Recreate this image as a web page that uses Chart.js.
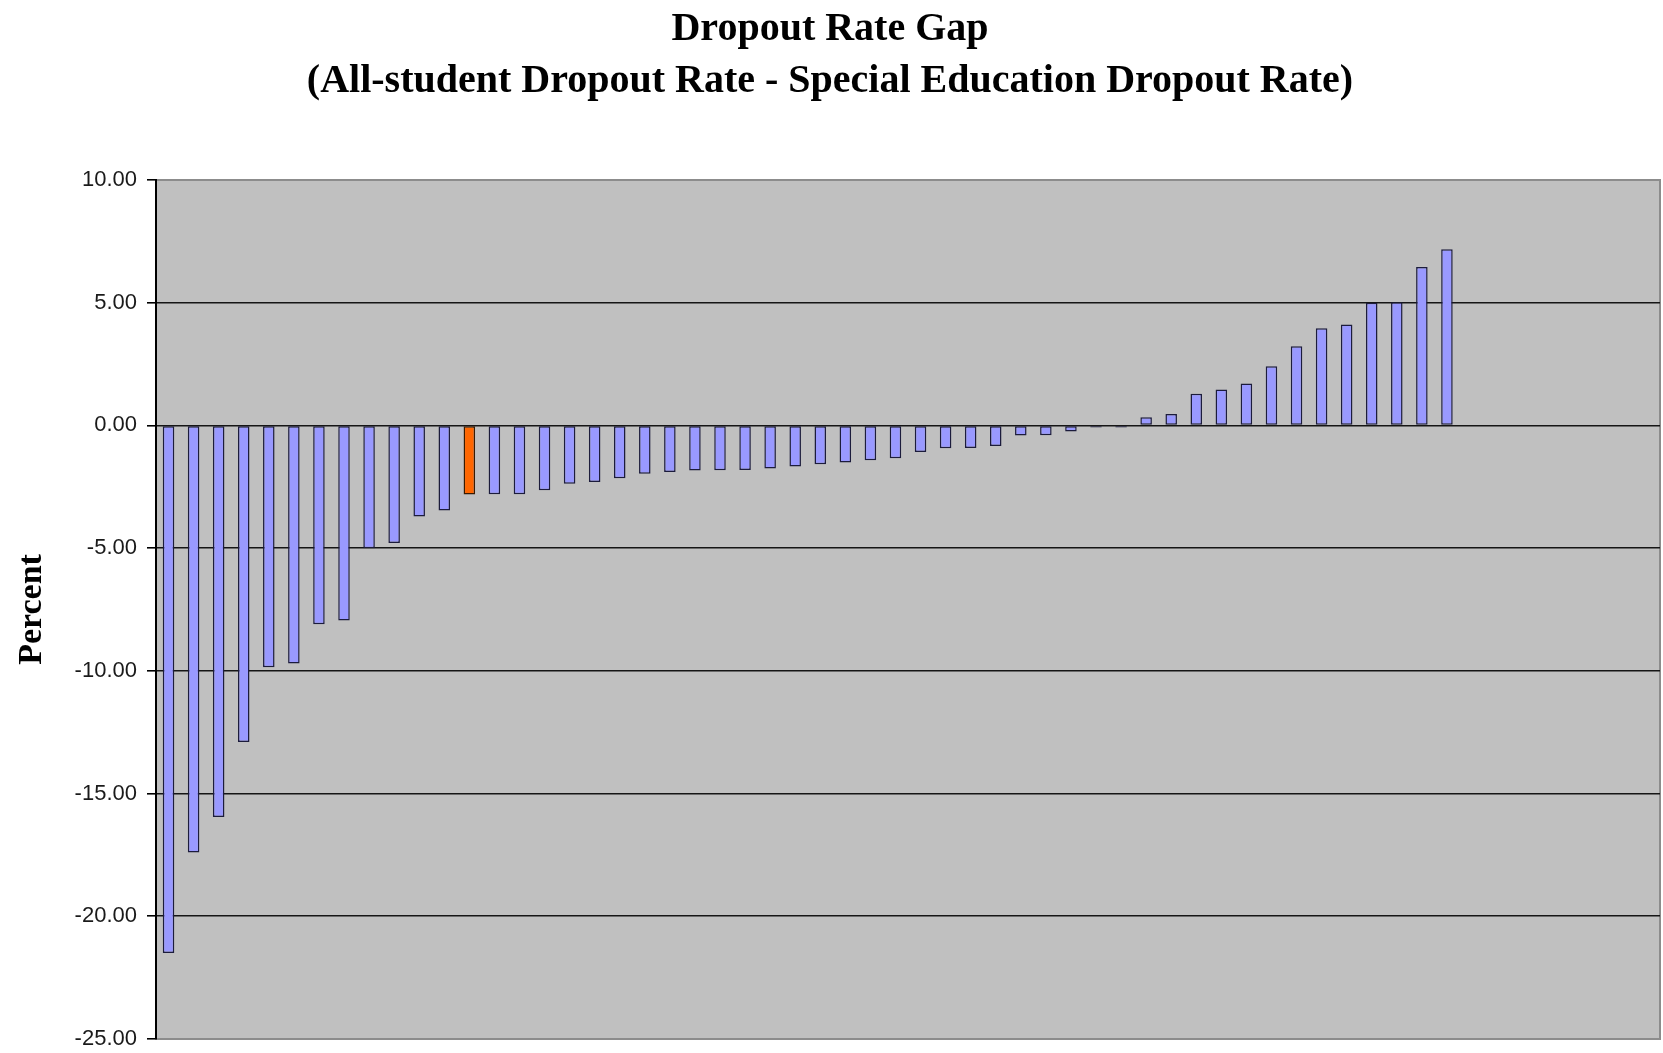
<!DOCTYPE html>
<html>
<head>
<meta charset="utf-8">
<title>Dropout Rate Gap</title>
<script src="https://cdn.jsdelivr.net/npm/chart.js@4.4.1/dist/chart.umd.min.js"></script>
<style>
    html, body { margin: 0; padding: 0; background: #ffffff; }
    #wrap { position: relative; width: 1663px; height: 1053px; }
</style>
</head>
<body>
<div id="wrap"><canvas id="gapChart"></canvas></div>
<script>
// 60 slots on the category axis, only the first 52 carry a value
const categories = Array.from({ length: 60 }, (_, i) => String(i + 1));

// All-student rate minus special education rate, sorted ascending
const gapValues = [
    -21.5, -17.4, -15.95, -12.9, -9.85, -9.7, -8.1, -7.95, -5.0, -4.79,
    -3.71, -3.47, -2.81, -2.8, -2.8, -2.64, -2.38, -2.3, -2.15, -1.97,
    -1.9, -1.84, -1.83, -1.82, -1.75, -1.67, -1.58, -1.51, -1.42, -1.34,
    -1.08, -0.93, -0.92, -0.84, -0.41, -0.4, -0.25, -0.08, -0.08,
    0.33, 0.47, 1.29, 1.46, 1.71, 2.41, 3.23, 3.96, 4.11, 5.0, 5.02, 6.46, 7.18,
    null, null, null, null, null, null, null, null
];

// the one bar drawn in orange
const highlightIndex = 12;

const yTicks = [-25, -20, -15, -10, -5, 0, 5, 10];

const titleLines = [
    'Dropout Rate Gap',
    '(All-student Dropout Rate - Special Education Dropout Rate)'
];

const barFill = gapValues.map((v, i) => i === highlightIndex ? '#ff6600' : '#9999ff');
const barEdge = gapValues.map((v, i) => i === highlightIndex ? '#3a1a00' : '#1c1c3c');

// grey plot area with a thin grey frame
const plotBackground = {
    id: 'plotBackground',
    beforeDraw(chart) {
        const { ctx, chartArea } = chart;
        ctx.save();
        ctx.fillStyle = '#c0c0c0';
        ctx.fillRect(chartArea.left, chartArea.top, chartArea.width, chartArea.height);
        ctx.strokeStyle = '#8c8c8c';
        ctx.lineWidth = 2;
        ctx.strokeRect(chartArea.left, chartArea.top, chartArea.width, chartArea.height);
        ctx.restore();
    }
};

const ctx = document.getElementById('gapChart');

new Chart(ctx, {
    type: 'bar',
    data: {
        labels: categories,
        datasets: [{
            label: 'Dropout Rate Gap',
            data: gapValues,
            backgroundColor: barFill,
            borderColor: barEdge,
            borderWidth: 1.5,
            borderSkipped: false,
            barPercentage: 0.46,
            categoryPercentage: 1.0
        }]
    },
    options: {
        responsive: true,
        maintainAspectRatio: false,
        animation: false,
        layout: {
            padding: { top: 0, right: 3, bottom: 14, left: 0 }
        },
        plugins: {
            legend: { display: false },
            tooltip: { enabled: false },
            title: {
                display: true,
                text: titleLines,
                color: '#000000',
                font: { family: "'Liberation Serif', 'Times New Roman', serif", size: 40, weight: 'bold', lineHeight: 1.3 },
                padding: { top: 4, bottom: 72 }
            }
        },
        scales: {
            x: {
                display: false
            },
            y: {
                min: -25,
                max: 10,
                afterBuildTicks: (scale) => {
                    scale.ticks = yTicks.map(v => ({ value: v }));
                },
                afterFit: (scale) => {
                    // fixed axis width; let layout padding decide the plot's bottom edge
                    scale.width = 156;
                    scale.paddingTop = 0;
                    scale.paddingBottom = 0;
                },
                ticks: {
                    color: '#1a1a1a',
                    padding: 10,
                    font: { family: "'Liberation Sans', Arial, sans-serif", size: 22 },
                    callback: (v) => Number(v).toFixed(2)
                },
                grid: {
                    color: (c) => (c.tick && (c.tick.value === 10 || c.tick.value === -25)) ? '#8c8c8c' : '#151515',
                    lineWidth: 1.6,
                    drawTicks: true,
                    tickLength: 9,
                    tickColor: '#000000'
                },
                border: {
                    display: true,
                    color: '#000000',
                    width: 2
                },
                title: {
                    display: true,
                    text: 'Percent',
                    color: '#000000',
                    font: { family: "'Liberation Serif', 'Times New Roman', serif", size: 34, weight: 'bold' },
                    padding: { top: 12, bottom: 0 }
                }
            }
        }
    },
    plugins: [plotBackground]
});
</script>
</body>
</html>
